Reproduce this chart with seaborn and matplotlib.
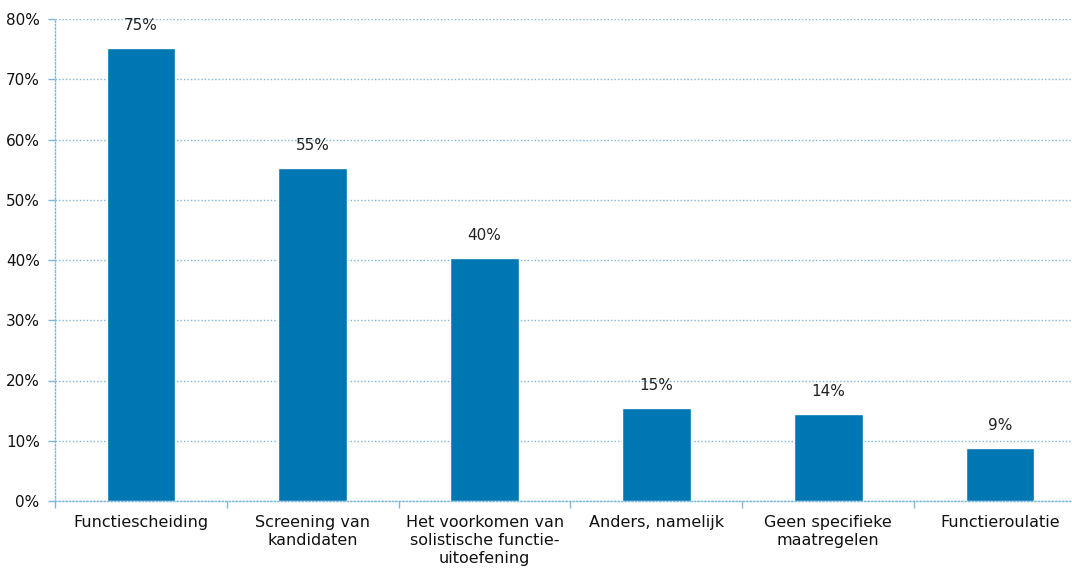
import numpy as np
import matplotlib.pyplot as plt
import seaborn as sns
from matplotlib.ticker import FixedLocator, PercentFormatter

# Categories and values (percent)
CATEGORIES = [
    "Functiescheiding",
    "Screening van\nkandidaten",
    "Het voorkomen van\nsolistische functie-\nuitoefening",
    "Anders, namelijk",
    "Geen specifieke\nmaatregelen",
    "Functieroulatie",
]
VALUES = [75.2, 55.3, 40.3, 15.4, 14.4, 8.8]
LABELS = ["75%", "55%", "40%", "15%", "14%", "9%"]

BAR_COLOR = "#0077b3"
GRID_COLOR = "#7db7dc"

sns.set_style("white")
plt.rcParams["font.family"] = ["DejaVu Sans"]

fig = plt.figure(figsize=(10.72, 5.76), dpi=100)
ax = fig.add_axes([55 / 1072, 75 / 576, 1031 / 1072, 482 / 576])

sns.barplot(x=CATEGORIES, y=VALUES, color=BAR_COLOR, width=0.4,
            saturation=1, ax=ax, zorder=3)

ax.bar_label(ax.containers[0], labels=LABELS, padding=11, fontsize=11,
             color="#222222")

ax.set_ylim(0, 80)
ax.set_xlim(-0.5, 5.5)
ax.yaxis.set_major_locator(FixedLocator(np.arange(0, 81, 10)))
ax.yaxis.set_major_formatter(PercentFormatter(decimals=0))

ax.grid(axis="y", color=GRID_COLOR, linestyle=(0, (1, 1.5)), linewidth=1.0,
        zorder=0)
for side in ["top", "right"]:
    ax.spines[side].set_visible(False)
for side in ["left", "bottom"]:
    ax.spines[side].set_color(GRID_COLOR)
    ax.spines[side].set_linestyle((0, (1, 1.5)))
    ax.spines[side].set_linewidth(1.0)

ax.set_xticks(range(len(CATEGORIES)))
ax.set_xticklabels(CATEGORIES, fontsize=11.5, linespacing=1.25,
                   color="#111111")
ax.xaxis.set_minor_locator(FixedLocator(np.arange(-0.5, 5.6, 1)))
ax.tick_params(axis="x", which="major", length=0, pad=10, bottom=True)
ax.tick_params(axis="x", which="minor", length=5, width=1.0,
               color=GRID_COLOR, direction="out", bottom=True)
ax.tick_params(axis="y", which="major", length=5, width=1.0,
               color=GRID_COLOR, labelsize=11, labelcolor="#111111", pad=6,
               left=True)

fig.savefig("out.png", dpi=100)
